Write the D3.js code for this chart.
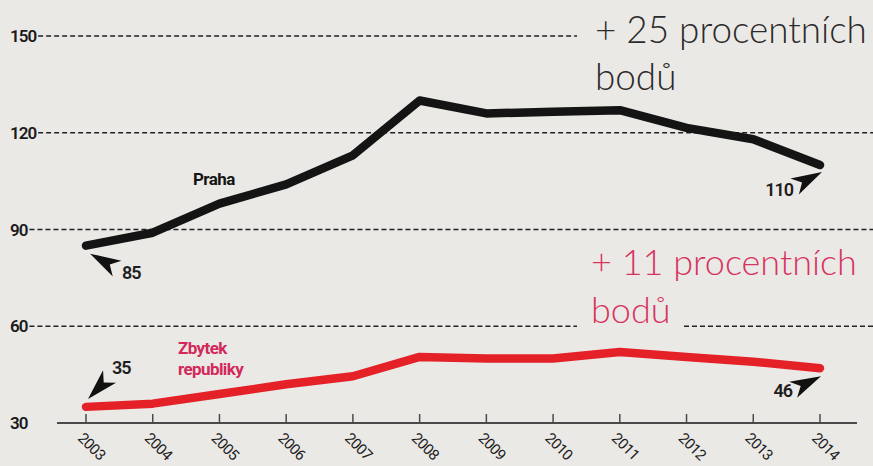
<!DOCTYPE html>
<html><head><meta charset="utf-8">
<script src="https://cdn.jsdelivr.net/npm/d3@7"></script>
<style>
html,body{margin:0;padding:0;background:#ebe9e6;}
svg{display:block;}
</style></head>
<body>
<svg id="c" width="873" height="466"></svg>
<script>
const years = [2003,2004,2005,2006,2007,2008,2009,2010,2011,2012,2013,2014];
const praha = [85,89,98,104,113,130,126,126.5,127,121.5,118,110];
const zbytek = [35,36,39,42,44.5,50.5,50,50,52,50.5,49,47];
const yTicks = [150,120,90,60,30];
const seriesNames = ["Praha","Zbytek republiky"];
const endLabels = {praha:[85,110], zbytek:[35,46]};
const annotTop = ["+ 25 procentních","bodů"];
const annotBottom = ["+ 11 procentních","bodů"];

const W=873,H=466;
const svg=d3.select("#c");
svg.append("rect").attr("width",W).attr("height",H).attr("fill","#ebe9e6");

const x=d3.scalePoint().domain(years).range([86,820]);
const y=d3.scaleLinear().domain([30,150]).range([423,36]);

const numFont="Roboto, 'DejaVu Sans', sans-serif";
const lightFont="Lato, 'Open Sans', sans-serif";

// y labels + gridlines
const gaps={150:[[577,W]],60:[[577,684]]};
yTicks.forEach(v=>{
  const t=svg.append("text").attr("x",10).attr("y",y(v)).attr("dy","0.36em")
    .attr("font-family",numFont).attr("font-weight",600).attr("font-size",17)
    .attr("letter-spacing","-1").attr("fill","#1a1a1a").text(v);
  if(v===30) return;
  const x0=10+t.node().getComputedTextLength()+2;
  let segs=[[x0,W]];
  (gaps[v]||[]).forEach(g=>{
    const ns=[];segs.forEach(s=>{ if(g[0]>s[0]) ns.push([s[0],Math.min(s[1],g[0])]); if(g[1]<s[1]) ns.push([Math.max(s[0],g[1]),s[1]]);});
    segs=ns;
  });
  segs.forEach(s=>svg.append("line").attr("x1",s[0]).attr("x2",s[1]).attr("y1",y(v)).attr("y2",y(v))
    .attr("stroke","#222").attr("stroke-width",1.3).attr("stroke-dasharray","5,3"));
});

// x axis
svg.append("line").attr("x1",57).attr("x2",857).attr("y1",y(30)).attr("y2",y(30))
  .attr("stroke","#4a4a4a").attr("stroke-width",1.8);
years.forEach(yr=>{
  svg.append("line").attr("x1",x(yr)).attr("x2",x(yr)).attr("y1",y(30)).attr("y2",y(30)-9)
    .attr("stroke","#4a4a4a").attr("stroke-width",1.5);
  svg.append("text").attr("transform",`translate(${x(yr)-1},${y(30)+8}) rotate(45)`)
    .attr("dy","0.75em").attr("font-family",numFont).attr("font-size",15).attr("letter-spacing","-0.6")
    .attr("fill","#1e1e1e").text(yr);
});

// lines
const line=d3.line().x((d,i)=>x(years[i])).y(d=>y(d));
svg.append("path").datum(zbytek).attr("d",line).attr("fill","none").attr("stroke","#e52128")
  .attr("stroke-width",8.5).attr("stroke-linejoin","round").attr("stroke-linecap","round");
svg.append("path").datum(praha).attr("d",line).attr("fill","none").attr("stroke","#141414")
  .attr("stroke-width",8.5).attr("stroke-linejoin","round").attr("stroke-linecap","round");

// series labels
svg.append("text").attr("x",193).attr("y",185).attr("font-family",numFont).attr("font-weight",700)
  .attr("font-size",17).attr("fill","#151515").attr("letter-spacing","-0.6").text(seriesNames[0]);
const zl=svg.append("text").attr("font-family",numFont).attr("font-weight",700)
  .attr("font-size",17).attr("fill","#d3285a").attr("letter-spacing","-0.6");
const zw=seriesNames[1].split(" ");
zl.append("tspan").attr("x",178).attr("y",354).text(zw[0]);
zl.append("tspan").attr("x",178).attr("y",375).text(zw[1]);

// arrows
function arrow(tx,ty,ang,len){
  const a=ang*Math.PI/180, ux=Math.cos(a), uy=Math.sin(a), px=-uy, py=ux;
  const bx=tx-ux*len, by=ty-uy*len, hw=9;
  const nx=bx+ux*len*0.27, ny=by+uy*len*0.27;
  const p=[[tx,ty],[bx+px*hw,by+py*hw],[nx,ny],[bx-px*hw,by-py*hw]];
  svg.append("path").attr("d","M"+p.map(q=>q.join(",")).join("L")+"Z").attr("fill","#111");
}
function endLabel(i,val,arr,tdx,tdy,ang,lx,ly,anchor){
  const px=x(years[i]), py=y(arr[i]);
  arrow(px+tdx,py+tdy,ang,31);
  svg.append("text").attr("x",px+lx).attr("y",py+ly).attr("text-anchor",anchor)
    .attr("font-family",numFont).attr("font-weight",600).attr("font-size",18).attr("letter-spacing","-1")
    .attr("fill","#1e1e1e").text(val);
}
endLabel(0,endLabels.praha[0],praha,4,8,-151,36,33,"start");
endLabel(11,endLabels.praha[1],praha,2,7,-28,-27,31,"end");
endLabel(0,endLabels.zbytek[0],zbytek,2,-8,134,26,-33,"start");
endLabel(11,endLabels.zbytek[1],zbytek,1,8,-26,-28,29,"end");

// annotations, sized so the first line spans the width seen in the reference
function annot(lines,x0,y0,lh,targetW,color){
  const t=svg.append("text").attr("font-family",lightFont).attr("font-weight",300)
    .attr("font-size",40).attr("fill",color);
  const spans=lines.map((l,i)=>t.append("tspan").attr("x",x0).attr("y",y0+i*lh).text(l));
  const w=spans[0].node().getComputedTextLength();
  t.attr("font-size",40*targetW/w);
}
annot(annotTop,595,43,47,272,"#2b2b2b");
annot(annotBottom,591,275,48,266,"#d8335e");
</script>
</body></html>
